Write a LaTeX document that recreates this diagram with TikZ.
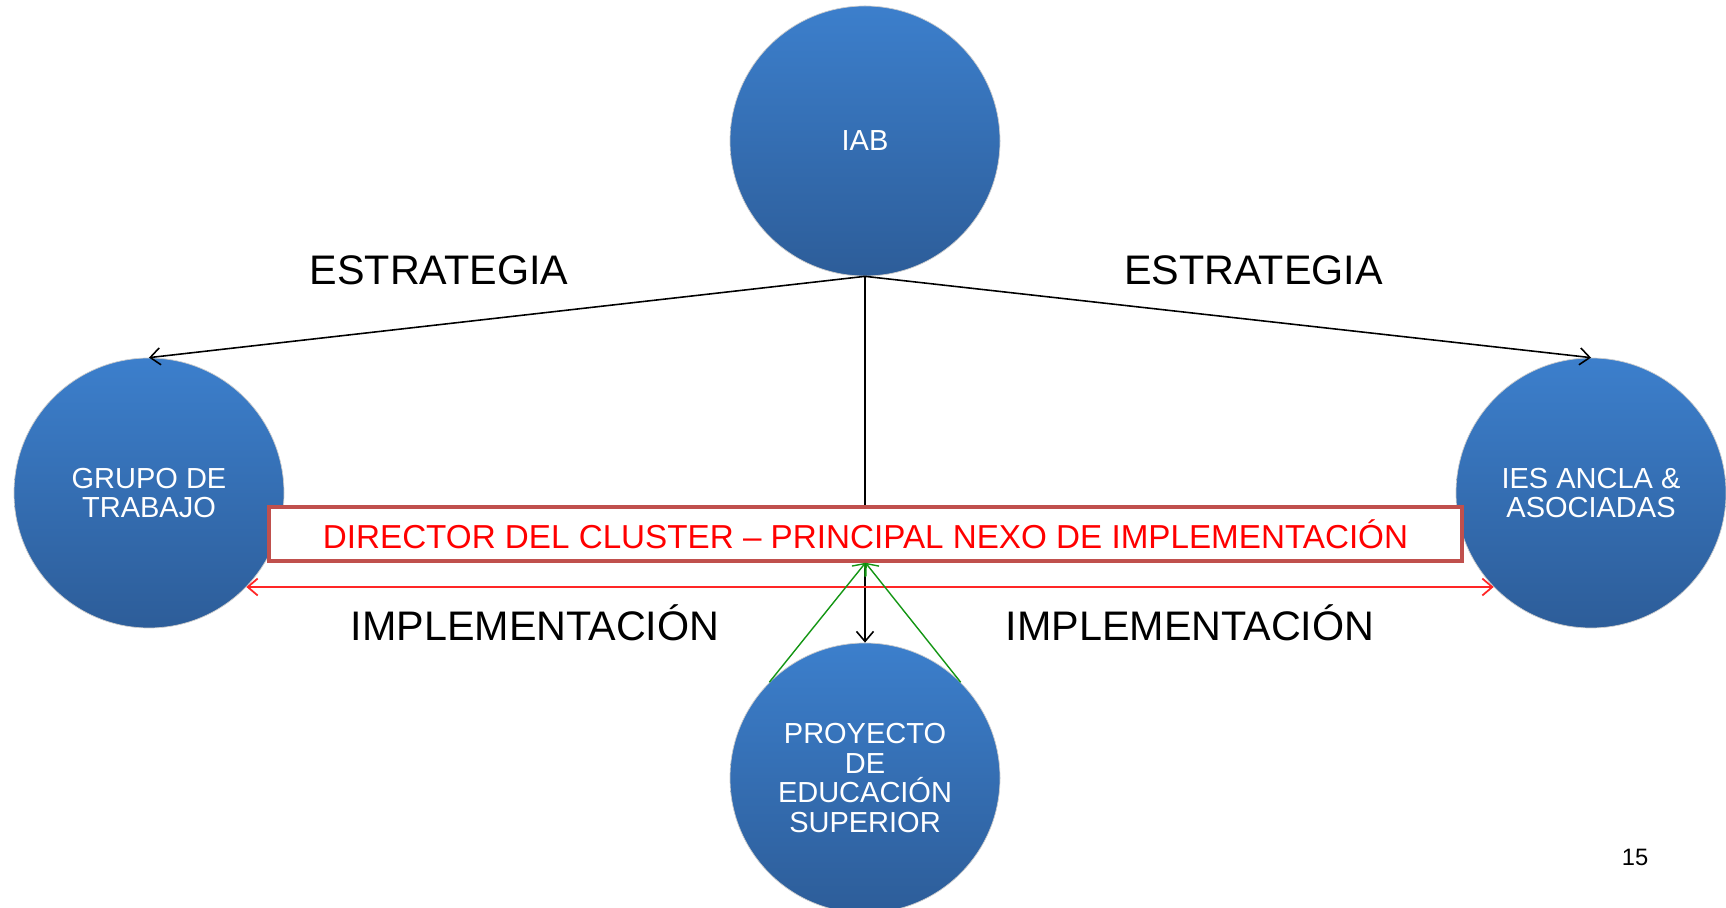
\documentclass[tikz,border=0pt]{standalone}
\usepackage{fontspec}
\setmainfont{Liberation Sans}
\usetikzlibrary{arrows.meta,positioning}
\definecolor{azulA}{RGB}{60,127,204}
\definecolor{azulB}{RGB}{45,93,153}
\definecolor{rojoBorde}{RGB}{192,80,77}
\definecolor{verde}{RGB}{20,150,20}
\tikzset{
	%Define standard arrow tip
	>={Straight Barb[length=2mm,width=3.4mm]},
	%Define style for circles
	circulo/.style={
		circle,
		top color=azulA, bottom color=azulB,
		draw=black!20, thin,
		minimum size=5.4cm,
		inner sep=0pt,
		text=white,
		align=center,
		font=\fontsize{16.5}{16.8}\selectfont},
	% Define style for labels
	etiqueta/.style={
		font=\fontsize{23.5}{26}\selectfont},
	% Define arrow style
	flecha/.style={
		->,
		line width=0.9pt}
}
\begin{document}
\begin{tikzpicture}
	\useasboundingbox (0,0) rectangle (34.52,18.16);
	
	\node[circulo] (iab) at (17.30,15.34) {IAB};
	\node[circulo] (grupo) at (2.98,8.30) {GRUPO DE\\TRABAJO};
	\node[circulo] (ies) at (31.82,8.30) {IES ANCLA \&\\ASOCIADAS};
	\node[circulo] (proyecto) at (17.30,2.60) {PROYECTO\\DE\\EDUCACIÓN\\SUPERIOR};
	
	\node[etiqueta] (estr1) at (8.78,12.76) {ESTRATEGIA};
	\node[etiqueta] (estr2) at (25.07,12.76) {ESTRATEGIA};
	\node[etiqueta] (impl1) at (10.70,5.70) {IMPLEMENTACIÓN};
	\node[etiqueta] (impl2) at (23.80,5.70) {IMPLEMENTACIÓN};
	
	\draw[flecha] (iab.south) -- (grupo.north);
	\draw[flecha] (iab.south) -- (ies.north);
	\draw[flecha] (iab.south) -- (proyecto.north);
	
	\node[draw=rojoBorde, line width=2pt, fill=white, minimum width=23.86cm, minimum height=1.08cm, text=red, font=\fontsize{18.9}{20}\selectfont] (director) at (17.31,7.48) {DIRECTOR DEL CLUSTER – PRINCIPAL NEXO DE IMPLEMENTACIÓN};
	
	\draw[<->, red!85, line width=1pt] (grupo.-44) -- (ies.224);
	\draw[flecha, draw=verde, line width=0.8pt] (proyecto.135) -- (director.south);
	\draw[flecha, draw=verde, line width=0.8pt] (proyecto.45) -- (director.south);
	
	\node[font=\fontsize{13.5}{15}\selectfont] (pagina) at (32.70,1.02) {15};
\end{tikzpicture}
\end{document}
